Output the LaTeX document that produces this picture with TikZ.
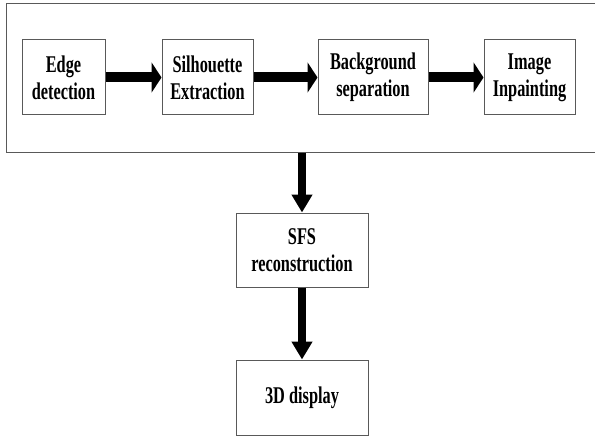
\documentclass[tikz,border=0pt]{standalone}
\usepackage{fontspec}
\setmainfont{Liberation Serif}[FakeStretch=0.68]
\usetikzlibrary{arrows.meta, positioning, calc}

\begin{document}
\begin{tikzpicture}[x=1pt, y=-1pt,
    stagebox/.style={draw=black!65, line width=1pt, rectangle, fill=white, align=center,
      minimum height=75pt, inner sep=2pt, font=\fontsize{24}{27}\selectfont\bfseries},
    flowright/.style={line width=10pt, -{Triangle[length=10pt, width=30pt]}},
    flowdown/.style={line width=8pt, -{Triangle[length=18pt, width=20pt]}}]
  \useasboundingbox (0,0) rectangle (595,436);
  % Preprocessing chain
  \node[draw=black!65, line width=1pt, rectangle, minimum width=591pt, minimum height=148pt] (prep) at (301.5,78) {};

  \node[stagebox, minimum width=83pt] (edge) at (63.5,77.5) {Edge\\detection};
  \node[stagebox, minimum width=91pt] (silh) at (207.5,77.5) {Silhouette\\Extraction};
  \node[stagebox, minimum width=110pt] (bgsep) at (373,77.5) {Background\\separation};
  \node[stagebox, minimum width=91pt] (inpaint) at (529.5,77.5) {Image\\Inpainting};

  \draw[flowright] (edge) -- (silh);
  \draw[flowright] (silh) -- (bgsep);
  \draw[flowright] (bgsep) -- (inpaint);

  % Reconstruction and output
  \node[stagebox, minimum width=132pt, minimum height=74pt] (sfs) at (302,250) {SFS\\reconstruction};
  \node[stagebox, minimum width=132pt] (disp) at (302,397.5) {3D display};

  \draw[flowdown] (prep.south -| sfs.north) -- (sfs.north);
  \draw[flowdown] (sfs) -- (disp);
\end{tikzpicture}
\end{document}
